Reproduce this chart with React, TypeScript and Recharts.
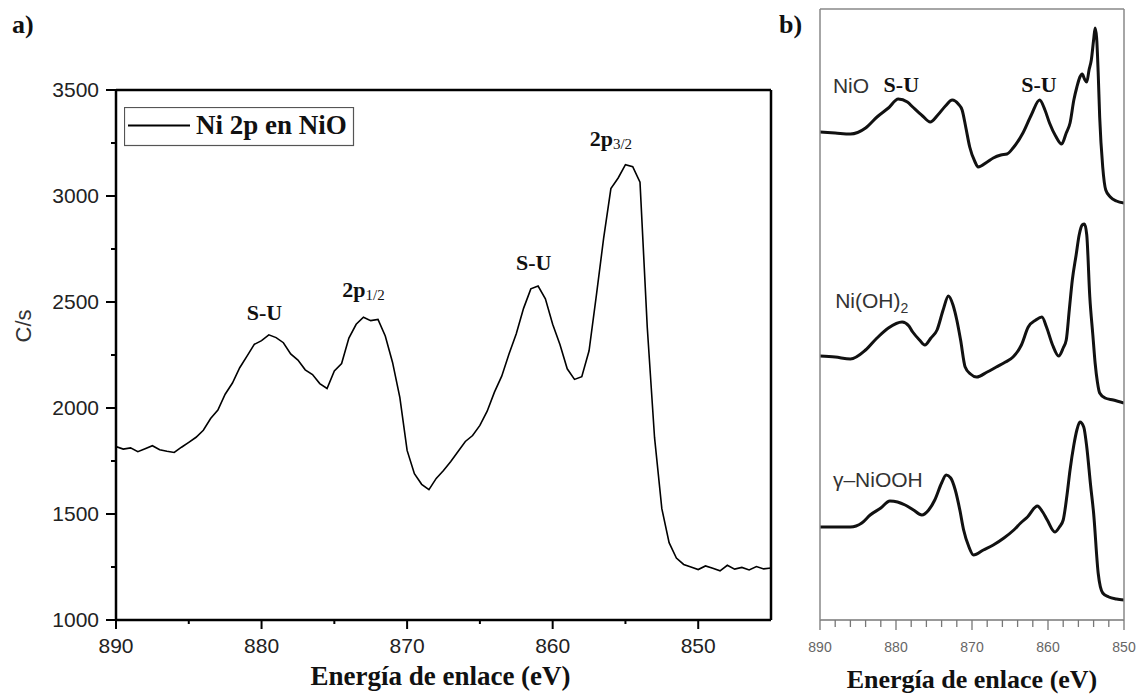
import React from "react";
import { LineChart, Line, XAxis, YAxis, ReferenceDot, Legend } from "recharts";

const SANS = '"Liberation Sans", Arial, sans-serif';
const SERIF = '"Liberation Serif", "Times New Roman", serif';

// panel a) : Ni 2p spectrum of NiO, counts per second vs binding energy (eV)
const niEnergy = [
  890, 889.5, 889, 888.5, 888, 887.5, 887, 886.5, 886, 885.5, 885, 884.5, 884, 883.5, 883,
  882.5, 882, 881.5, 881, 880.5, 880, 879.5, 879, 878.5, 878, 877.5, 877, 876.5, 876, 875.5,
  875, 874.5, 874, 873.5, 873, 872.5, 872, 871.5, 871, 870.5, 870, 869.5, 869, 868.5, 868,
  867.5, 867, 866.5, 866, 865.5, 865, 864.5, 864, 863.5, 863, 862.5, 862, 861.5, 861, 860.5,
  860, 859.5, 859, 858.5, 858, 857.5, 857, 856.5, 856, 855.5, 855, 854.5, 854, 853.5, 853,
  852.5, 852, 851.5, 851, 850.5, 850, 849.5, 849, 848.5, 848, 847.5, 847, 846.5, 846, 845.5, 845,
];
const niCounts = [
  1818, 1806, 1812, 1794, 1808, 1822, 1803, 1796, 1790, 1815, 1838, 1862, 1895, 1950, 1990,
  2065, 2118, 2190, 2245, 2300, 2318, 2345, 2332, 2308, 2255, 2226, 2180, 2158, 2115, 2092,
  2175, 2210, 2330, 2395, 2428, 2412, 2418, 2340, 2215, 2050, 1800, 1690, 1640, 1615, 1668,
  1705, 1748, 1795, 1842, 1870, 1918, 1985, 2075, 2150, 2255, 2350, 2470, 2562, 2575, 2515,
  2395, 2300, 2185, 2135, 2148, 2270, 2530, 2800, 3035, 3085, 3148, 3138, 3065, 2380, 1860,
  1525, 1365, 1292, 1262, 1250, 1238, 1255, 1244, 1232, 1258, 1240, 1248, 1236, 1252, 1241, 1245,
];
const xTicksA = [890, 885, 880, 875, 870, 865, 860, 855, 850];
const yTicksA = [1000, 1250, 1500, 1750, 2000, 2250, 2500, 2750, 3000, 3250, 3500];

// peak annotations (position of the text baseline, in data units)
const peakEnergy = [879.8, 873.0, 861.3, 856.0];
const peakCounts = [2415, 2524, 2651, 3236];
const peakMain = ["S-U", "2p", "S-U", "2p"];
const peakSub = ["", "1/2", "", "3/2"];

// panel b) : reference spectra, arbitrary intensity units (stacked)
const nioE = [
  890, 888, 886, 884, 882.5, 881, 879.7, 878.5, 877.8, 876.5, 875.5, 874.5, 873.5, 872.6, 871.8,
  871.3, 870.8, 870.3, 869.6, 869.2, 868, 867.2, 866.2, 865.4, 864.6, 863.3, 862.2, 861.1, 860.4,
  859.8, 859, 858.2, 857.6, 857.1, 856.6, 856.2, 855.8, 855.5, 855.2, 854.9, 854.6, 854.3, 854,
  853.8, 853.6, 853.4, 853.2, 852.8, 852.4, 851.8, 851, 850,
];
const nioI = [
  488, 487, 486, 492, 503, 512, 521, 518, 513, 504, 498, 505, 514, 520, 516,
  510, 492, 473, 458, 453, 458, 462, 465, 466, 472, 487, 505, 520, 510,
  497, 484, 476, 487, 497, 520, 533, 543, 546, 541, 538, 550, 560, 580,
  592, 582, 548, 503, 453, 430, 423, 419, 417,
];
const ohE = [
  890, 888, 886, 884, 882.5, 881, 879.2, 878.3, 877.8, 876.9, 876.2, 875.4, 874.6, 873.8, 873.1,
  872.5, 872, 871.5, 870.9, 870.2, 869.4, 868, 866.8, 865.6, 864.6, 863.5, 862.6, 861.6, 860.8,
  860.2, 859.4, 858.6, 858, 857.6, 857.2, 856.8, 856.3, 855.9, 855.5, 855.2, 854.9, 854.5, 854.1,
  853.8, 853.5, 853.2, 852.5, 851.4, 850,
];
const ohI = [
  264, 263, 261, 270, 282, 292, 298, 294, 288, 280, 275, 282, 290, 310, 324,
  315, 300, 280, 253, 246, 243, 248, 253, 258, 263, 275, 293, 300, 303,
  293, 275, 264, 272, 280, 310, 340, 365, 385, 395, 396, 385, 323, 285,
  257, 238, 227, 222, 220, 217,
];
const oohE = [
  890, 888, 886, 884.5, 883.4, 882, 880.8, 879.8, 878.8, 877.7, 876.6, 875.7, 874.9, 874, 873.4,
  872.8, 872.2, 871.6, 871.1, 870.4, 869.8, 868.5, 867.2, 865.8, 864.5, 863.6, 862.7, 861.4, 860.7,
  860.1, 859.1, 858.5, 858, 857.5, 857.1, 856.6, 856.2, 855.8, 855.3, 854.9, 854.4, 854, 853.4,
  852.8, 852, 851, 850,
];
const oohI = [
  93, 93, 93, 97, 105, 112, 119, 118, 115, 110, 105, 110, 120, 137, 145,
  142, 130, 110, 90, 73, 65, 70, 75, 82, 90, 97, 103, 114, 108,
  100, 88, 93, 100, 125, 150, 175, 190, 198, 193, 173, 135, 107, 47,
  27, 23, 21, 20,
];
const xTicksB = [890, 888, 886, 884, 882, 880, 878, 876, 874, 872, 870, 868, 866, 864, 862, 860, 858, 856, 854, 852, 850];

const tagEnergy = [888.3, 879.3, 861.2, 888.0, 888.3];
const tagLevel = [527, 528, 528, 312, 133];
const tagText = ["NiO", "S-U", "S-U", "Ni(OH)", "γ–NiOOH"];
const tagSub = ["", "", "", "2", ""];
const tagSerif = [false, true, true, false, false];

const spectrumA = niEnergy.map((e, i) => ({ e, c: niCounts[i] }));
const rows = (es: number[], vs: number[]) => es.map((e, i) => ({ e, v: vs[i] }));

function XTickA(props: any) {
  const { x, y, payload } = props;
  const major = payload.value % 10 === 0;
  return (
    <g>
      <line x1={x} x2={x} y1={y} y2={y + (major ? 9 : 4)} stroke="#000" strokeWidth={2} />
      {major && (
        <text x={x} y={y + 33} textAnchor="middle" fontFamily={SANS} fontSize={21} fill="#222">
          {payload.value}
        </text>
      )}
    </g>
  );
}

function YTickA(props: any) {
  const { x, y, payload } = props;
  const major = payload.value % 500 === 0;
  return (
    <g>
      <line x1={x} x2={x - (major ? 10 : 5)} y1={y} y2={y} stroke="#000" strokeWidth={2} />
      {major && (
        <text x={x - 17} y={y} dy="0.35em" textAnchor="end" fontFamily={SANS} fontSize={21} fill="#222">
          {payload.value}
        </text>
      )}
    </g>
  );
}

function XTickB(props: any) {
  const { x, y, payload } = props;
  const major = payload.value % 10 === 0;
  return (
    <g>
      <line x1={x} x2={x} y1={y} y2={y + (major ? 10 : 7)} stroke="#777" strokeWidth={1.3} />
      {major && (
        <text x={x} y={y + 32} textAnchor="middle" fontFamily={SANS} fontSize={14} fill="#666">
          {payload.value}
        </text>
      )}
    </g>
  );
}

function PeakText(props: any) {
  const { viewBox, main, sub } = props;
  const cx = viewBox.x + viewBox.width / 2;
  const cy = viewBox.y + viewBox.height / 2;
  return (
    <text x={cx} y={cy} textAnchor="middle" fontFamily={SERIF} fontWeight="bold" fontSize={22} fill="#111">
      {main}
      {sub && (
        <tspan fontSize={15} fontWeight="normal" dy={3}>
          {sub}
        </tspan>
      )}
    </text>
  );
}

function TagText(props: any) {
  const { viewBox, label, sub, serif } = props;
  const cx = viewBox.x + viewBox.width / 2;
  const cy = viewBox.y + viewBox.height / 2;
  return (
    <text
      x={cx}
      y={cy}
      textAnchor={serif ? "middle" : "start"}
      fontFamily={serif ? SERIF : SANS}
      fontWeight={serif ? "bold" : "normal"}
      fontSize={serif ? 22 : 21}
      fill={serif ? "#111" : "#333"}
    >
      {label}
      {sub && (
        <tspan fontSize={14} dy={5}>
          {sub}
        </tspan>
      )}
    </text>
  );
}

function NiLegend(props: any) {
  const item = props.payload?.[0];
  return (
    <svg width={231} height={40} style={{ display: "block" }}>
      <rect x={0.5} y={0.5} width={229} height={38} fill="#fff" stroke="#555" strokeWidth={1.2} />
      <line x1={4} x2={66} y1={18.5} y2={18.5} stroke="#000" strokeWidth={1.8} />
      <text x={72} y={27} fontFamily={SERIF} fontWeight="bold" fontSize={27} fill="#111">
        {item ? item.value : "Ni 2p en NiO"}
      </text>
    </svg>
  );
}

export default function App() {
  return (
    <div style={{ position: "absolute", left: 0, top: 0, width: 1140, height: 694, background: "#fff" }}>
      <div style={{ position: "absolute", left: 0, top: 0 }}>
        <LineChart width={790} height={694} data={spectrumA} margin={{ top: 89, right: 18, bottom: 44, left: 0 }}>
          <XAxis
            type="number"
            dataKey="e"
            domain={[845, 890]}
            reversed
            allowDataOverflow
            ticks={xTicksA}
            interval={0}
            tickSize={0}
            tickMargin={0}
            tickLine={false}
            tick={<XTickA />}
            height={30}
            axisLine={{ stroke: "#000", strokeWidth: 2.5 }}
            label={{
              content: (p: any) => (
                <text
                  x={p.viewBox.x + p.viewBox.width / 2 - 3}
                  y={p.viewBox.y + 65}
                  textAnchor="middle"
                  fontFamily={SERIF}
                  fontWeight="bold"
                  fontSize={27}
                  fill="#111"
                >
                  Energía de enlace (eV)
                </text>
              ),
            }}
          />
          <XAxis
            xAxisId="top"
            orientation="top"
            type="number"
            dataKey="e"
            domain={[845, 890]}
            reversed
            height={1}
            tick={false}
            tickLine={false}
            axisLine={{ stroke: "#000", strokeWidth: 2.5 }}
          />
          <YAxis
            type="number"
            domain={[1000, 3500]}
            allowDataOverflow
            ticks={yTicksA}
            interval={0}
            tickSize={0}
            tickMargin={0}
            tickLine={false}
            tick={<YTickA />}
            width={116}
            axisLine={{ stroke: "#000", strokeWidth: 2.5 }}
            label={{
              content: (p: any) => (
                <text
                  transform={`translate(${p.viewBox.x + 23}, ${p.viewBox.y + p.viewBox.height / 2 - 29}) rotate(-90)`}
                  dy="0.35em"
                  textAnchor="middle"
                  fontFamily={SANS}
                  fontSize={22}
                  fill="#333"
                >
                  C/s
                </text>
              ),
            }}
          />
          <YAxis
            yAxisId="right"
            orientation="right"
            type="number"
            domain={[1000, 3500]}
            width={1}
            tick={false}
            tickLine={false}
            axisLine={{ stroke: "#000", strokeWidth: 2.5 }}
          />
          <Legend
            layout="vertical"
            align="center"
            verticalAlign="middle"
            content={<NiLegend />}
            wrapperStyle={{ left: 124, top: 107, width: 231, height: 40 }}
          />
          <Line
            type="linear"
            dataKey="c"
            name="Ni 2p en NiO"
            stroke="#000"
            strokeWidth={1.6}
            dot={false}
            isAnimationActive={false}
          />
          {peakEnergy.map((e, i) => (
            <ReferenceDot
              key={`peak-${i}`}
              x={e}
              y={peakCounts[i]}
              r={1}
              fill="none"
              stroke="none"
              label={<PeakText main={peakMain[i]} sub={peakSub[i]} />}
            />
          ))}
        </LineChart>
      </div>

      <div style={{ position: "absolute", left: 780, top: 0 }}>
        <LineChart width={360} height={694} margin={{ top: 8, right: 15, bottom: 44, left: 0 }}>
          <XAxis
            type="number"
            dataKey="e"
            domain={[850, 890]}
            reversed
            allowDataOverflow
            ticks={xTicksB}
            interval={0}
            tickSize={0}
            tickMargin={0}
            tickLine={false}
            tick={<XTickB />}
            height={30}
            axisLine={{ stroke: "#777", strokeWidth: 1.5 }}
            label={{
              content: (p: any) => (
                <text
                  x={p.viewBox.x + p.viewBox.width / 2}
                  y={p.viewBox.y + 68}
                  textAnchor="middle"
                  fontFamily={SERIF}
                  fontWeight="bold"
                  fontSize={26}
                  fill="#111"
                >
                  Energía de enlace (eV)
                </text>
              ),
            }}
          />
          <XAxis
            xAxisId="top"
            orientation="top"
            type="number"
            dataKey="e"
            domain={[850, 890]}
            reversed
            height={1}
            tick={false}
            tickLine={false}
            axisLine={{ stroke: "#888", strokeWidth: 1.5 }}
          />
          <YAxis
            type="number"
            domain={[0, 611]}
            allowDataOverflow
            width={40}
            tick={false}
            tickLine={false}
            axisLine={{ stroke: "#888", strokeWidth: 1.5 }}
          />
          <YAxis
            yAxisId="right"
            orientation="right"
            type="number"
            domain={[0, 611]}
            width={1}
            tick={false}
            tickLine={false}
            axisLine={{ stroke: "#888", strokeWidth: 1.5 }}
          />
          <Line data={rows(nioE, nioI)} type="monotone" dataKey="v" name="NiO" stroke="#111" strokeWidth={3} dot={false} isAnimationActive={false} />
          <Line data={rows(ohE, ohI)} type="monotone" dataKey="v" name="Ni(OH)2" stroke="#111" strokeWidth={3} dot={false} isAnimationActive={false} />
          <Line data={rows(oohE, oohI)} type="monotone" dataKey="v" name="γ-NiOOH" stroke="#111" strokeWidth={3} dot={false} isAnimationActive={false} />
          {tagEnergy.map((e, i) => (
            <ReferenceDot
              key={`tag-${i}`}
              x={e}
              y={tagLevel[i]}
              r={1}
              fill="none"
              stroke="none"
              label={<TagText label={tagText[i]} sub={tagSub[i]} serif={tagSerif[i]} />}
            />
          ))}
        </LineChart>
      </div>

      <svg width={1140} height={694} style={{ position: "absolute", left: 0, top: 0, pointerEvents: "none" }}>
        <text x={12} y={33} fontFamily={SERIF} fontWeight="bold" fontSize={26} fill="#111">
          a)
        </text>
        <text x={779} y={33} fontFamily={SERIF} fontWeight="bold" fontSize={26} fill="#111">
          b)
        </text>
      </svg>
    </div>
  );
}
